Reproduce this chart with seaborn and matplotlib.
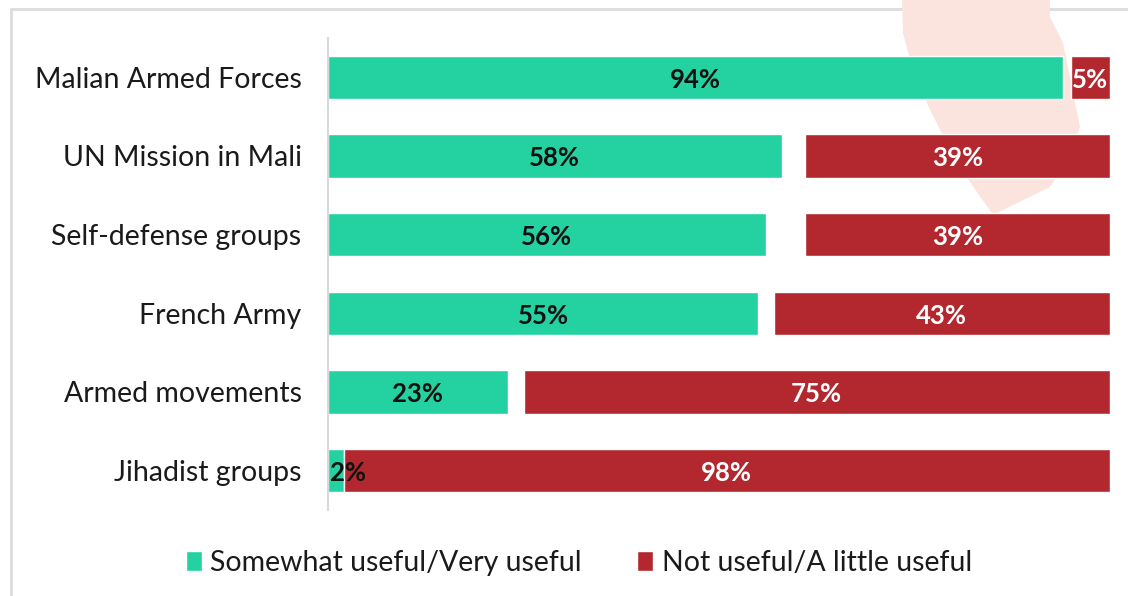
import numpy as np
import pandas as pd
import matplotlib
matplotlib.use("Agg")
import matplotlib.pyplot as plt
import seaborn as sns
from matplotlib.patches import Polygon
from matplotlib.lines import Line2D
from matplotlib.patches import Patch

categories = ["Malian Armed Forces", "UN Mission in Mali", "Self-defense groups",
              "French Army", "Armed movements", "Jihadist groups"]
useful = [94, 58, 56, 55, 23, 2]
not_useful = [5, 39, 39, 43, 75, 98]
series_names = ["Somewhat useful/Very useful", "Not useful/A little useful"]

GREEN = "#24D1A1"
RED = "#B2282E"

sns.set_theme(style="white")
plt.rcParams["font.family"] = ["Lato", "DejaVu Sans"]

df = pd.DataFrame({"cat": categories, "useful": useful, "not_useful": not_useful})
df["other"] = 100 - df["useful"] - df["not_useful"]
df["red_left"] = df["useful"] + df["other"]

W, H = 1128, 596
fig = plt.figure(figsize=(W / 100, H / 100), dpi=100)

# decorative background shape (top right)
pts = [(902, 0), (1050, 0), (1050, 17), (1063, 43), (1080, 127), (1068, 160),
       (1050, 187), (993, 215), (958, 165), (930, 110), (912, 67), (903, 33)]
fig.patches.append(Polygon([(x / W, 1 - y / H) for x, y in pts], closed=True,
                           transform=fig.transFigure, facecolor="#FBE4DD",
                           edgecolor="none", zorder=-5))
# border
fig.lines.append(Line2D([11 / W, 11 / W], [0, 1 - 9 / H], transform=fig.transFigure,
                        color="#DCDCDC", lw=2, zorder=-5))
fig.lines.append(Line2D([11 / W, 1], [1 - 9 / H, 1 - 9 / H], transform=fig.transFigure,
                        color="#DCDCDC", lw=2, zorder=-5))

ax = fig.add_axes([328 / W, 1 - 510 / H, (1110 - 328) / W, (510 - 38) / H])
ax.patch.set_alpha(0)
ax.set_zorder(5)

sns.barplot(data=df, y="cat", x="useful", orient="h", color=GREEN, width=0.55,
            edgecolor="white", linewidth=1.0, ax=ax, saturation=1)
sns.barplot(data=df, y="cat", x="not_useful", left=df["red_left"].values, orient="h",
            color=RED, width=0.55, edgecolor="white", linewidth=1.0, ax=ax, saturation=1)

ax.set_xlim(0, 100)
ax.set_ylim(5.5, -0.5)
ax.set_xlabel("")
ax.set_ylabel("")
ax.set_xticks([])
for s in ["top", "right", "bottom"]:
    ax.spines[s].set_visible(False)
ax.spines["left"].set_color("#D9D9D9")
ax.spines["left"].set_linewidth(1.5)
ax.tick_params(axis="y", length=0, pad=19, labelsize=20.5, labelcolor="#1a1a1a")

LBL = 18.5
for i in range(len(categories)):
    g = useful[i]
    r = not_useful[i]
    if g < 5:
        ax.text(0.2, i + 0.03, f"{g}%", ha="left", va="center", fontsize=LBL,
                fontweight="bold", color="#111111")
    else:
        ax.text(g / 2, i + 0.03, f"{g}%", ha="center", va="center", fontsize=LBL,
                fontweight="bold", color="#111111")
    left = df["red_left"].iloc[i]
    ax.text(left + r / 2, i + 0.03, f"{r}%", ha="center", va="center", fontsize=LBL,
            fontweight="bold", color="white")

handles = [Patch(facecolor=GREEN), Patch(facecolor=RED)]
fig.legend(handles, series_names, loc="center", bbox_to_anchor=(579 / W, 1 - 563 / H),
           ncol=2, frameon=False, fontsize=20.5, handlelength=0.55, handleheight=0.65,
           handletextpad=0.3, columnspacing=1.95, labelcolor="#1a1a1a")

fig.savefig("out.png", dpi=100)
